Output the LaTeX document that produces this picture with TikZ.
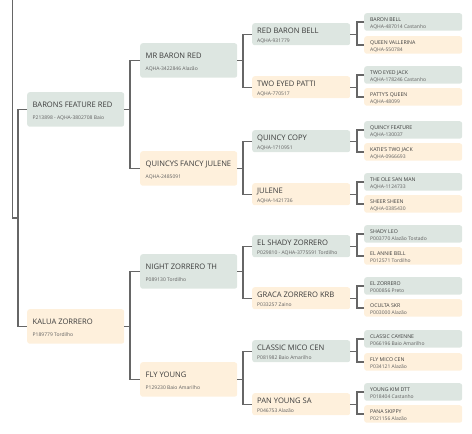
\documentclass[tikz,border=0pt]{standalone}
\usepackage{fontspec}
\setmainfont{Open Sans}
\definecolor{gfill}{HTML}{DDE6E1}
\definecolor{cfill}{HTML}{FEF0DC}
\definecolor{lcol}{HTML}{666666}
\definecolor{tcol}{HTML}{3C3C3C}
\definecolor{scol}{HTML}{606060}
\newcommand\tA{\fontsize{7.6}{8}\selectfont}
\newcommand\sA{\fontsize{5.0}{6}\selectfont}
\newcommand\tD{\fontsize{5.2}{6}\selectfont}
\tikzset{
  x=1pt, y=-1pt,
  hbox/.style={draw=none, rounded corners=2.5pt, inner sep=0pt, anchor=north west},
  gbox/.style={hbox, fill=gfill},
  cbox/.style={hbox, fill=cfill},
  gA/.style={minimum width=97pt, minimum height=34.5pt},
  gC/.style={minimum width=98pt, minimum height=22pt},
  gD/.style={minimum width=98pt, minimum height=17.5pt},
  ttl/.style={anchor=base west, inner sep=0pt, text=tcol},
  sub/.style={anchor=base west, inner sep=0pt, text=scol},
  conn/.style={draw=lcol, line width=1.2pt},
}
% #1 name, #2 fill style, #3 x, #4 top y, #5 title, #6 subtitle
\newcommand\genA[6]{%
  \node[#2, gA] (#1) at (#3,#4) {};
  \node[ttl, font=\tA] (#1t) at ([xshift=5.5pt,yshift=-15pt]#1.north west) {#5};
  \node[sub, font=\sA] (#1s) at ([xshift=5.5pt,yshift=-27pt]#1.north west) {#6};}
\newcommand\genC[6]{%
  \node[#2, gC] (#1) at (#3,#4) {};
  \node[ttl, font=\tA] (#1t) at ([xshift=5pt,yshift=-10.7pt]#1.north west) {#5};
  \node[sub, font=\sA] (#1s) at ([xshift=5pt,yshift=-19pt]#1.north west) {#6};}
\newcommand\genD[6]{%
  \node[#2, gD] (#1) at (#3,#4) {};
  \node[ttl, font=\tD] (#1t) at ([xshift=6pt,yshift=-8.4pt]#1.north west) {#5};
  \node[sub, font=\sA] (#1s) at ([xshift=6pt,yshift=-15.7pt]#1.north west) {#6};}
\begin{document}
\begin{tikzpicture}
\path[use as bounding box] (0,0) rectangle (472,434);
% generation 1
\genA{barons}{gbox}{27}{92}{BARONS FEATURE RED}{P213898 - AQHA-3802708 Baio}
\genA{kalua}{cbox}{27}{309}{KALUA ZORRERO}{P189779 Tordilho}
% generation 2
\genA{mrbaron}{gbox}{140}{43}{MR BARON RED}{AQHA-3422846 Alazão}
\genA{quincys}{cbox}{140}{151}{QUINCYS FANCY JULENE}{AQHA-2485091}
\genA{night}{gbox}{140}{254}{NIGHT ZORRERO TH}{P089130 Tordilho}
\genA{fly}{cbox}{140}{362}{FLY YOUNG}{P129230 Baio Amarilho}
% generation 3
\genC{redbaron}{gbox}{252}{23}{RED BARON BELL}{AQHA-931779}
\genC{patti}{cbox}{252}{76}{TWO EYED PATTI}{AQHA-770517}
\genC{qcopy}{gbox}{252}{130}{QUINCY COPY}{AQHA-1710951}
\genC{julene}{cbox}{252}{183}{JULENE}{AQHA-1421736}
\genC{elshady}{gbox}{252}{235}{EL SHADY ZORRERO}{P029810 - AQHA-3775591 Tordilho}
\genC{graca}{cbox}{252}{287}{GRACA ZORRERO KRB}{P033257 Zaino}
\genC{classic}{gbox}{252}{340}{CLASSIC MICO CEN}{P081982 Baio Amarilho}
\genC{pan}{cbox}{252}{393}{PAN YOUNG SA}{P046753 Alazão}
% generation 4
\genD{baronbell}{gbox}{364}{13}{BARON BELL}{AQHA-487014 Castanho}
\genD{queen}{cbox}{364}{36}{QUEEN VALLERINA}{AQHA-550784}
\genD{jack}{gbox}{364}{66}{TWO EYED JACK}{AQHA-178246 Castanho}
\genD{pattyq}{cbox}{364}{88}{PATTY'S QUEEN}{AQHA-48099}
\genD{qfeat}{gbox}{364}{121}{QUINCY FEATURE}{AQHA-130037}
\genD{katie}{cbox}{364}{143}{KATIE'S TWO JACK}{AQHA-0966693}
\genD{ole}{gbox}{364}{173}{THE OLE SAN MAN}{AQHA-1124733}
\genD{sheer}{cbox}{364}{195}{SHEER SHEEN}{AQHA-0385430}
\genD{leo}{gbox}{364}{225}{SHADY LEO}{P003770 Alazão Tostado}
\genD{annie}{cbox}{364}{247}{EL ANNIE BELL}{P012571 Tordilho}
\genD{elzor}{gbox}{364}{277}{EL ZORRERO}{P000856 Preto}
\genD{oculta}{cbox}{364}{299}{OCULTA SKR}{P003000 Alazão}
\genD{cayenne}{gbox}{364}{330}{CLASSIC CAYENNE}{P066196 Baio Amarilho}
\genD{flymico}{cbox}{364}{353}{FLY MICO CEN}{P034121 Alazão}
\genD{kim}{gbox}{364}{383}{YOUNG KIM DTT}{P018404 Castanho}
\genD{pana}{cbox}{364}{405}{PANA SKIPPY}{P021156 Alazão}
% connectors
\coordinate (root) at (12.5,0);
\coordinate (join) at (18,218);
\draw[conn] (root) |- (join);
\draw[conn] (barons.west) -- ++(-9,0) |- (kalua.west);
\foreach \p/\a/\b in {barons/mrbaron/quincys, kalua/night/fly}{
  \draw[conn] (\p.east) -- ++(6,0);
  \draw[conn] (\a.west) -- ++(-10,0) |- (\b.west);
}
\foreach \p/\a/\b in {mrbaron/redbaron/patti, quincys/qcopy/julene, night/elshady/graca, fly/classic/pan}{
  \draw[conn] (\p.east) -- ++(6,0);
  \draw[conn] (\a.west) -- ++(-9,0) |- (\b.west);
}
\foreach \p/\a/\b in {redbaron/baronbell/queen, patti/jack/pattyq, qcopy/qfeat/katie, julene/ole/sheer, elshady/leo/annie, graca/elzor/oculta, classic/cayenne/flymico, pan/kim/pana}{
  \draw[conn] (\p.east) -- ++(7,0);
  \draw[conn] (\a.west) -- ++(-7,0) |- (\b.west);
}
\end{tikzpicture}
\end{document}
